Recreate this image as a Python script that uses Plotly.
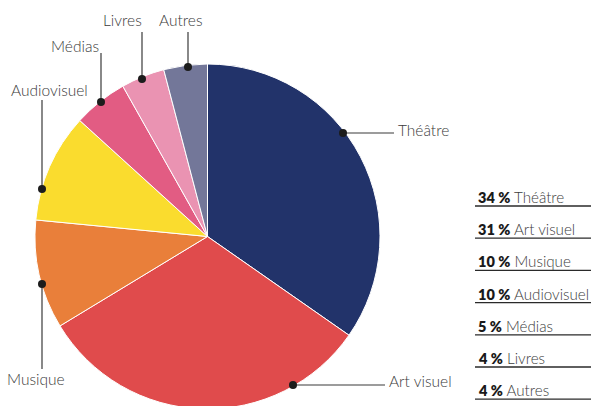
import plotly.graph_objects as go

# ---- data ----
categories = ["Théâtre", "Art visuel", "Musique", "Audiovisuel", "Médias", "Livres", "Autres"]
values = [34, 31, 10, 10, 5, 4, 4]
colors = ["#22336A", "#E04B4C", "#E97F3A", "#FADC2E", "#E25C83", "#EA93B2", "#737799"]

W, H = 591, 410

# pie geometry (pixels)
CX, CY, R = 207.5, 236.5, 172.5


def px(x):
    return x / W


def py(y):
    return 1 - y / H


# leader label layout: (dot x, dot y, line end x, line end y, text x, text y, anchor)
label_layout = {
    "Théâtre": (343, 133, 394, 133, 396, 130, "left"),
    "Art visuel": (293, 385, 385, 385, 387, 381, "left"),
    "Musique": (42, 284, 42, 369, 36, 379, "center"),
    "Audiovisuel": (42, 189, 42, 100, 49, 90, "center"),
    "Médias": (101, 102, 101, 53, 101, 46, "right"),
    "Livres": (142, 79, 142, 32, 144, 20, "right"),
    "Autres": (188, 67, 188, 32, 181, 20, "center"),
}

fig = go.Figure()
fig.add_trace(go.Pie(
    labels=categories,
    values=values,
    sort=False,
    direction="clockwise",
    rotation=0,
    textinfo="none",
    hoverinfo="label+percent",
    marker=dict(colors=colors, line=dict(color="white", width=1)),
    domain=dict(x=[px(CX - R), px(CX + R)], y=[max(0, py(CY + R)), py(CY - R)]),
    showlegend=False,
))

shapes = []
annotations = []
for cat in categories:
    dx, dy, lx, ly, tx, ty, anc = label_layout[cat]
    shapes.append(dict(type="line", xref="paper", yref="paper",
                       x0=px(dx), y0=py(dy), x1=px(lx), y1=py(ly),
                       line=dict(color="#3a3a3a", width=1.2)))
    rr = 4
    shapes.append(dict(type="circle", xref="paper", yref="paper",
                       x0=px(dx - rr), x1=px(dx + rr), y0=py(dy + rr), y1=py(dy - rr),
                       fillcolor="#1c1c1c", line=dict(width=0)))
    annotations.append(dict(text=cat, xref="paper", yref="paper", x=px(tx), y=py(ty),
                            xanchor=anc, yanchor="middle", showarrow=False,
                            font=dict(family="Lato", size=15.5, color="#3a3a3a", weight=300)))

# right-side legend list
leg_y0, leg_step = 197, 32.2
for i, (cat, v) in enumerate(zip(categories, values)):
    ty = leg_y0 + i * leg_step
    annotations.append(dict(
        text=(f"<span style='font-weight:800;color:#1a1a1a;font-size:14.5px'>{v} %</span>"
              f" {cat}"),
        xref="paper", yref="paper",
        x=px(476), y=py(ty), xanchor="left", yanchor="middle", showarrow=False,
        font=dict(family="Lato", size=15.2, color="#3d3d3d", weight=300)))
    shapes.append(dict(type="line", xref="paper", yref="paper",
                       x0=px(475), x1=1, y0=py(ty + 9), y1=py(ty + 9),
                       line=dict(color="#2a2a2a", width=1.3)))

fig.update_layout(
    width=W, height=H,
    margin=dict(l=0, r=0, t=0, b=0),
    paper_bgcolor="white", plot_bgcolor="white",
    shapes=shapes, annotations=annotations,
    font=dict(family="Lato"),
)

fig.write_html(
    "out.html",
    config={"displayModeBar": False},
    post_script="document.body.style.margin='0';document.body.style.overflow='hidden';",
)
